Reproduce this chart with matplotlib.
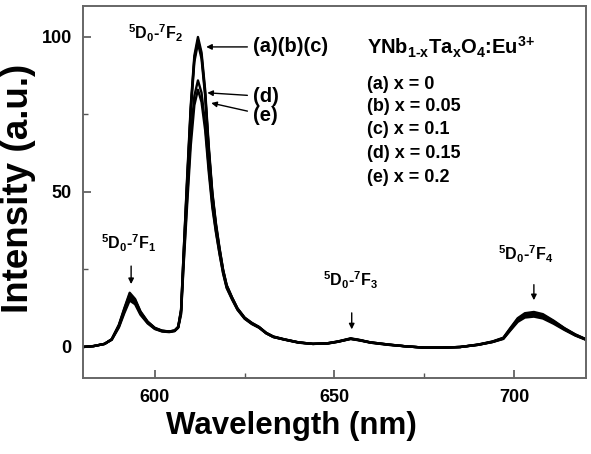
import matplotlib
matplotlib.use("Agg")
import matplotlib.pyplot as plt
from matplotlib.ticker import MultipleLocator

plt.rcParams["font.family"] = ["Liberation Sans", "DejaVu Sans"]
plt.rcParams["font.weight"] = "bold"
plt.rcParams["mathtext.fontset"] = "custom"
plt.rcParams["mathtext.rm"] = "Liberation Sans:bold"
plt.rcParams["mathtext.it"] = "Liberation Sans:bold"
plt.rcParams["mathtext.bf"] = "Liberation Sans:bold"

# emission spectra (wavelength in nm, intensity in a.u.)
wavelength = [580, 583, 586, 588, 590, 591.5, 593, 594.5, 596, 598, 600, 602, 604,
              605.5, 606.5, 607.3, 608, 609, 610, 611, 612, 613, 614, 615, 616,
              617, 618, 619, 620, 621.5, 623, 625, 627, 629, 631, 633, 636, 640,
              644, 648, 651, 654.5, 657, 660, 665, 670, 675, 680, 685, 690, 694,
              697, 699, 701, 703, 705.5, 708, 711, 714, 717, 720]
intensity_a = [0, 0.3, 1.0, 2.5, 7.2, 12.5, 17.5, 15.5, 11.5, 8.2, 6.2, 5.3, 5.0,
               5.3, 6.5, 12, 30, 55, 78, 94, 100, 95, 83, 65, 50,
               40, 32, 25, 20, 16, 12.5, 9.5, 7.8, 6.5, 4.6, 3.4, 2.5, 1.5,
               1.0, 1.2, 1.8, 2.8, 2.3, 1.5, 0.8, 0.2, -0.2, -0.2, 0.0, 0.8, 1.8,
               3.0, 6.2, 9.3, 10.9, 11.3, 10.6, 8.5, 6.1, 4.1, 2.5]
intensity_b = [0, 0.3, 1.0, 2.5, 7.0, 12.2, 17.0, 15.2, 11.3, 8.1, 6.1, 5.2, 5.0,
               5.3, 6.5, 12, 30, 54, 77, 93, 99, 94, 82, 64, 49.5,
               39.5, 31.7, 24.8, 19.8, 15.9, 12.4, 9.4, 7.7, 6.4, 4.5, 3.3, 2.5, 1.5,
               1.0, 1.2, 1.8, 2.7, 2.2, 1.5, 0.8, 0.2, -0.2, -0.2, 0.0, 0.8, 1.7,
               2.9, 6.0, 9.0, 10.6, 11.0, 10.3, 8.3, 6.0, 4.0, 2.5]
intensity_c = [0, 0.3, 1.0, 2.5, 6.8, 11.8, 16.5, 14.8, 11.0, 8.0, 6.0, 5.2, 5.0,
               5.3, 6.4, 11.5, 29, 53, 76, 92, 98, 93, 81, 63.5, 49,
               39, 31.4, 24.6, 19.6, 15.8, 12.3, 9.3, 7.6, 6.4, 4.5, 3.3, 2.4, 1.5,
               1.0, 1.2, 1.7, 2.7, 2.2, 1.5, 0.8, 0.2, -0.2, -0.2, 0.0, 0.7, 1.7,
               2.8, 5.8, 8.7, 10.3, 10.6, 10.0, 8.1, 5.9, 3.9, 2.4]
intensity_d = [0, 0.3, 1.0, 2.4, 6.6, 11.4, 15.8, 14.3, 10.7, 7.8, 5.9, 5.1, 4.9,
               5.2, 6.3, 11, 27, 48, 68, 81, 86, 82, 72, 58, 46,
               37.5, 30.3, 24, 19.2, 15.5, 12.1, 9.2, 7.5, 6.3, 4.4, 3.2, 2.4, 1.4,
               1.0, 1.1, 1.7, 2.6, 2.2, 1.4, 0.7, 0.2, -0.2, -0.2, 0.0, 0.7, 1.6,
               2.7, 5.6, 8.4, 9.9, 10.2, 9.6, 7.8, 5.7, 3.8, 2.4]
intensity_e = [0, 0.3, 1.0, 2.3, 6.3, 10.9, 15.0, 13.8, 10.4, 7.6, 5.8, 5.0, 4.8,
               5.1, 6.2, 10.5, 26, 46, 65, 78, 83, 79, 70, 56.5, 45,
               37, 30, 23.7, 19, 15.3, 12.0, 9.1, 7.4, 6.2, 4.4, 3.2, 2.4, 1.4,
               1.0, 1.1, 1.7, 2.6, 2.1, 1.4, 0.7, 0.2, -0.2, -0.2, 0.0, 0.7, 1.6,
               2.6, 5.4, 8.1, 9.5, 9.8, 9.2, 7.5, 5.5, 3.7, 2.3]
series = [intensity_a, intensity_b, intensity_c, intensity_d, intensity_e]

# transition labels: text, text position, arrow tail, arrow head
transitions = [
    (r"$^{5}$D$_{0}$-$^{7}$F$_{1}$", (592.8, 33.5), (593.4, 27.0), (593.4, 19.4)),
    (r"$^{5}$D$_{0}$-$^{7}$F$_{3}$", (654.5, 21.6), (654.8, 11.9), (654.8, 4.8)),
    (r"$^{5}$D$_{0}$-$^{7}$F$_{4}$", (703.3, 30.0), (705.5, 21.0), (705.5, 14.2)),
]
peak_labels = ["(a)(b)(c)", "(d)", "(e)"]
peak_label_pos = [(627.3, 96.8), (627.3, 80.8), (627.3, 74.8)]
peak_arrow_head = [(614.3, 96.8), (614.6, 82.0), (615.7, 78.7)]

compound = r"YNb$_{\text{1-x}}$Ta$_{\text{x}}$O$_{4}$:Eu$^{\text{3+}}$"
legend_lines = ["(a) x = 0", "(b) x = 0.05", "(c) x = 0.1", "(d) x = 0.15", "(e) x = 0.2"]
legend_y = [84.7, 77.6, 70.0, 62.3, 54.7]

fig = plt.figure(figsize=(5.91, 4.54), dpi=100)
ax = fig.add_axes([0.1404, 0.1674, 0.8511, 0.8194])

for values in series:
    ax.plot(wavelength, values, color="black", lw=1.7)

ax.set_xlim(580, 720)
ax.set_ylim(-10, 110)
ax.xaxis.set_major_locator(MultipleLocator(50))
ax.xaxis.set_minor_locator(MultipleLocator(25))
ax.yaxis.set_major_locator(MultipleLocator(50))
ax.yaxis.set_minor_locator(MultipleLocator(25))
ax.tick_params(which="both", direction="in", color="#555555", labelsize=13)
ax.tick_params(which="major", length=6, width=1.2)
ax.tick_params(which="minor", length=3.5, width=1.0)
ax.tick_params(axis="x", pad=8)
ax.tick_params(axis="y", pad=8)
for spine in ax.spines.values():
    spine.set_color("#666666")
    spine.set_linewidth(1.4)

ax.set_xlabel("Wavelength (nm)", fontsize=22.5, fontweight="bold")
ax.xaxis.set_label_coords(0.415, -0.09, transform=ax.transAxes)
ax.xaxis.label.set_va("top")
ax.set_ylabel("Intensity (a.u.)", fontsize=26.5, fontweight="bold")
ax.yaxis.set_label_coords(-0.093, 0.51)

ax.text(600.3, 101.3, r"$^{5}$D$_{0}$-$^{7}$F$_{2}$", fontsize=11.5, ha="center", va="center")
for label, pos, tail, head in transitions:
    ax.text(pos[0], pos[1], label, fontsize=11.5, ha="center", va="center")
    ax.annotate("", xy=head, xytext=tail,
                arrowprops=dict(arrowstyle="-|>", color="black", lw=1.0, mutation_scale=8))

for label, pos, head in zip(peak_labels, peak_label_pos, peak_arrow_head):
    ax.annotate(label, xy=head, xytext=pos, fontsize=14.5, ha="left", va="center",
                arrowprops=dict(arrowstyle="-|>", color="black", lw=1.0, mutation_scale=8,
                                shrinkA=2, shrinkB=0))

ax.text(659.0, 94.2, compound, fontsize=14.5, ha="left", va="baseline")
for label, y in zip(legend_lines, legend_y):
    ax.text(659.0, y, label, fontsize=13, ha="left", va="center")

fig.savefig("out.png", dpi=100)
